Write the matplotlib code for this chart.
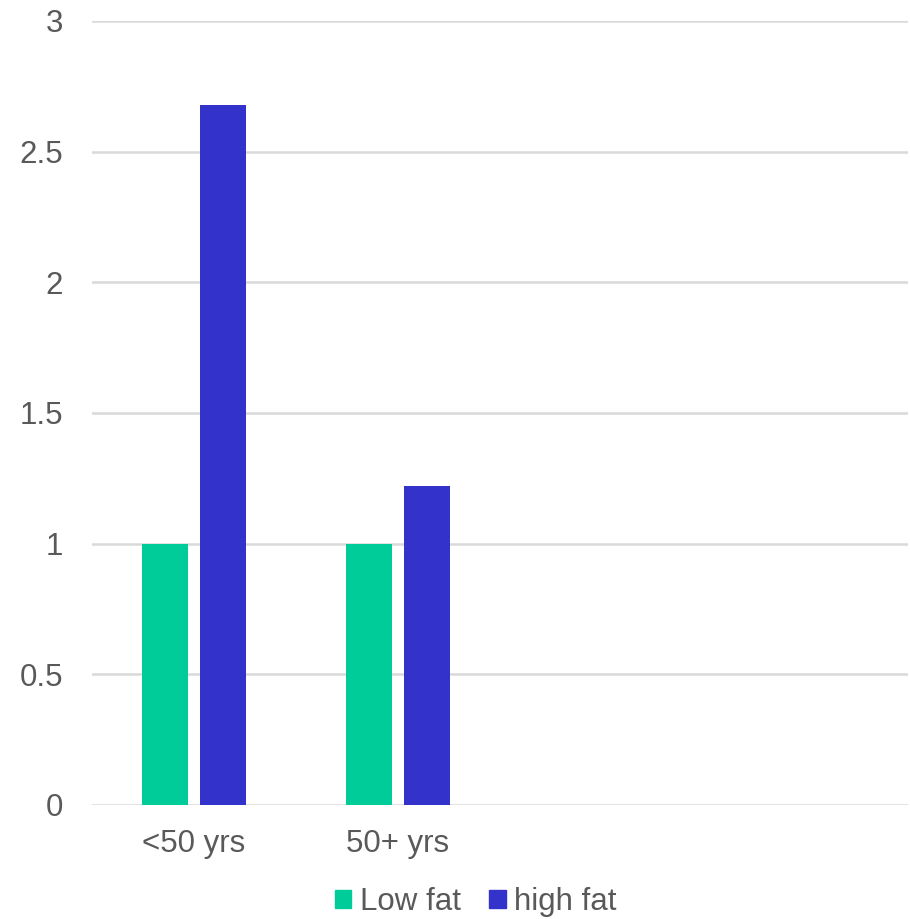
import matplotlib.pyplot as plt
from matplotlib.patches import Patch
import numpy as np

plt.rcParams['font.family'] = ['Liberation Sans', 'DejaVu Sans']

# data
categories = ['<50 yrs', '50+ yrs', '', '']
low_fat = [1.0, 1.0, np.nan, np.nan]
high_fat = [2.68, 1.22, np.nan, np.nan]
series_names = ['Low fat', 'high fat']
colors = ['#00CC99', '#3333CC']
yticks = [0, 0.5, 1, 1.5, 2, 2.5, 3]
ytick_labels = ['0', '0.5', '1', '1.5', '2', '2.5', '3']

fig = plt.figure(figsize=(9.1, 9.19), dpi=100)
ax = fig.add_axes([92/910, 1-805/919, 816/910, 784/919])

x = np.arange(len(categories))
w = 0.225
off = 0.143
ax.bar(x - off, low_fat, w, color=colors[0], zorder=3)
ax.bar(x + off, high_fat, w, color=colors[1], zorder=3)

ax.set_xlim(-0.5, len(categories) - 0.5)
ax.set_ylim(0, 3)
ax.set_yticks(yticks)
ax.set_yticklabels(ytick_labels)
ax.set_xticks(x)
ax.set_xticklabels(categories)
ax.grid(axis='y', color='#d9d9d9', linewidth=1.8, zorder=0)
ax.set_axisbelow(True)
for s in ['top', 'right', 'left', 'bottom']:
    ax.spines[s].set_visible(False)
ax.tick_params(axis='both', length=0, labelsize=22.5, colors='#595959')
ax.tick_params(axis='y', pad=21)
ax.tick_params(axis='x', pad=17)

handles = [Patch(color=c) for c in colors]
fig.legend(handles, series_names, loc='center', bbox_to_anchor=(476/910, 1-902/919),
           ncol=2, frameon=False, fontsize=22.5, labelcolor='#595959',
           handlelength=0.52, handleheight=0.52, handletextpad=0.28, columnspacing=0.9)

fig.savefig('out.png', dpi=100)
